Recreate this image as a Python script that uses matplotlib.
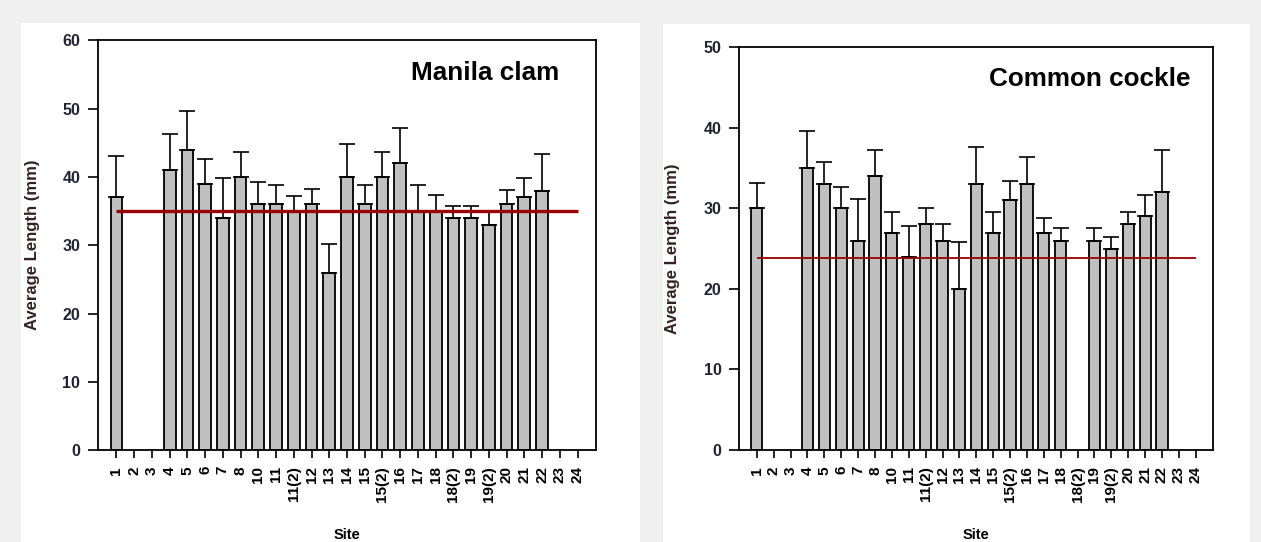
import numpy as np
import matplotlib
matplotlib.use("Agg")
import matplotlib.pyplot as plt
from matplotlib.patches import Rectangle

plt.rcParams['font.family'] = ['Liberation Sans', 'DejaVu Sans']

sites = ["1", "2", "3", "4", "5", "6", "7", "8", "10", "11", "11(2)", "12", "13",
         "14", "15", "15(2)", "16", "17", "18", "18(2)", "19", "19(2)", "20", "21",
         "22", "23", "24"]

nan = np.nan
manila_mean = [37, nan, nan, 41, 44, 39, 34, 40, 36, 36, 35, 36, 26,
               40, 36, 40, 42, 35, 35, 34, 34, 33, 36, 37, 38, nan, nan]
manila_upper = [43.1, nan, nan, 46.3, 49.7, 42.7, 39.9, 43.6, 39.3, 38.8, 37.2, 38.3, 30.2,
                44.9, 38.8, 43.6, 47.2, 38.8, 37.4, 35.7, 35.7, 34.9, 38.1, 39.9, 43.3, nan, nan]
manila_avg = 35.0

cockle_mean = [30, nan, nan, 35, 33, 30, 26, 34, 27, 24, 28, 26, 20,
               33, 27, 31, 33, 27, 26, nan, 26, 25, 28, 29, 32, nan, nan]
cockle_upper = [33.2, nan, nan, 39.6, 35.8, 32.6, 31.2, 37.2, 29.6, 27.8, 30.0, 28.0, 25.8,
                37.6, 29.6, 33.4, 36.4, 28.8, 27.6, nan, 27.6, 26.4, 29.6, 31.6, 37.2, nan, nan]
cockle_avg = 23.8

W, H = 1261, 542
fig = plt.figure(figsize=(W / 100, H / 100), dpi=100, facecolor='#f0f0f0')

# white panels (behind the axes)
fig.patches.append(Rectangle((21 / W, 0), (640 - 21) / W, (H - 23) / H,
                             transform=fig.transFigure, facecolor='white',
                             edgecolor='none', zorder=-5))
fig.patches.append(Rectangle((663 / W, 0), (1250 - 663) / W, (H - 23.5) / H,
                             transform=fig.transFigure, facecolor='white',
                             edgecolor='none', zorder=-5))


def make_panel(rect, top_px, means, upper, avg, ymax, title, title_x, avg_lw, ylabel_x):
    ax = fig.add_axes(rect)
    ax.set_facecolor('white')
    x = np.arange(len(sites))
    m = np.array(means, dtype=float)
    u = np.array(upper, dtype=float)
    ok = ~np.isnan(m)
    ax.bar(x[ok], m[ok], width=0.66, color='#c0c0c0', edgecolor='black',
           linewidth=1.3, zorder=2)
    err = u[ok] - m[ok]
    ax.errorbar(x[ok], m[ok], yerr=[np.zeros_like(err), err], fmt='none',
                ecolor='black', elinewidth=1.2, capsize=5.8, capthick=1.2, zorder=3)
    ax.plot([x[0], x[-1]], [avg, avg], color='#990000', lw=avg_lw, zorder=4,
            solid_capstyle='butt')
    ax.set_xlim(-1.04, len(sites) - 1 + 1.04)
    ax.set_ylim(0, ymax)
    ax.set_yticks(np.arange(0, ymax + 1, 10))
    ax.set_xticks(x)
    ax.set_xticklabels(sites, rotation=90, fontsize=11, fontweight='bold')
    for lbl in ax.get_yticklabels():
        lbl.set_fontweight('bold')
        lbl.set_fontsize(11.5)
        lbl.set_color('#222233')
    ax.tick_params(axis='y', direction='out', length=7.2, width=1.2, pad=5.5)
    ax.tick_params(axis='x', direction='out', length=5.8, width=1.2, pad=5.8)
    for s in ax.spines.values():
        s.set_linewidth(1.3)
    ax.text(title_x, 0.904, title, transform=ax.transAxes, ha='right',
            va='baseline', fontsize=18.8, fontweight='bold')
    ax.set_xlabel('Site', fontsize=10.5, fontweight='bold')
    ax.xaxis.set_label_coords(0.5, (450 - 539) / (450 - top_px))
    ax.xaxis.label.set_va('baseline')
    ax.set_ylabel('Average Length (mm)', fontsize=12, fontweight='bold',
                  color='#332222')
    ax.yaxis.set_label_coords(ylabel_x, 0.5)
    ax.yaxis.label.set_va('center')
    return ax


# left axes: x 98..596, y 40.5..450
l_rect = [98 / W, (H - 450) / H, (596 - 98) / W, (450 - 40.5) / H]
r_rect = [739.3 / W, (H - 450) / H, (1213.3 - 739.3) / W, (450 - 47.3) / H]

axl = make_panel(l_rect, 40.5, manila_mean, manila_upper, manila_avg, 60, 'Manila clam',
                 0.926, 2.4, (33 - 98) / (596 - 98))
axr = make_panel(r_rect, 47.3, cockle_mean, cockle_upper, cockle_avg, 50, 'Common cockle',
                 0.952, 1.3, (673 - 739.3) / (1213.3 - 739.3))

fig.savefig('out.png', dpi=100, facecolor=fig.get_facecolor())
